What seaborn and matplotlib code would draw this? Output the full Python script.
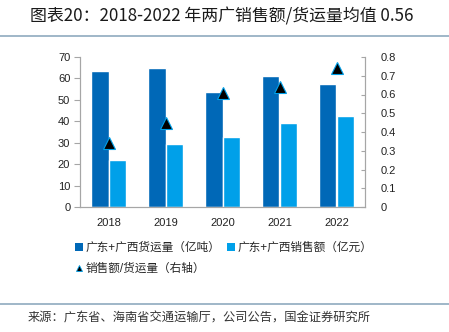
import matplotlib
matplotlib.use("Agg")
import matplotlib.pyplot as plt
from matplotlib.lines import Line2D
from matplotlib.patches import Patch
import seaborn as sns
import pandas as pd
import numpy as np

years = ["2018", "2019", "2020", "2021", "2022"]
freight = [63.3, 64.8, 53.6, 61.3, 57.6]      # 广东+广西货运量（亿吨）
sales = [21.8, 29.6, 32.8, 39.3, 42.7]         # 广东+广西销售额（亿元）
ratio = [0.34, 0.45, 0.61, 0.64, 0.74]         # 销售额/货运量（右轴）
left_ticks = [0, 10, 20, 30, 40, 50, 60, 70]
right_ticks = [0, 0.1, 0.2, 0.3, 0.4, 0.5, 0.6, 0.7, 0.8]
right_labels = ["0", "0.1", "0.2", "0.3", "0.4", "0.5", "0.6", "0.7", "0.8"]

s1 = "广东+广西货运量（亿吨）"
s2 = "广东+广西销售额（亿元）"
s3 = "销售额/货运量（右轴）"
title = "图表20：2018-2022 年两广销售额/货运量均值 0.56"
source = "来源：广东省、海南省交通运输厅，公司公告，国金证券研究所"

sns.set_style("white")
plt.rcParams["font.family"] = ["Liberation Sans", "Noto Sans CJK SC", "DejaVu Sans"]

c_dark = "#0068B7"
c_light = "#00A0E9"
spine_c = "#A6A6A6"

df = pd.DataFrame({
    "year": years * 2,
    "value": freight + sales,
    "series": [s1] * 5 + [s2] * 5,
})

W, H = 449, 332
fig = plt.figure(figsize=(W / 100, H / 100), dpi=100)
ax = fig.add_axes([80 / W, 1 - 207 / H, 285 / W, 150 / H])

sns.barplot(data=df, x="year", y="value", hue="series", order=years,
            hue_order=[s1, s2], palette=[c_dark, c_light], width=0.6,
            saturation=1, ax=ax, legend=False)
ax.set_xlabel("")
ax.set_ylabel("")
ax.set_xlim(-0.5, 4.5)
ax.set_ylim(0, 70)
ax.set_yticks(left_ticks)
ax.set_yticklabels([str(t) for t in left_ticks])
ax.tick_params(axis="y", direction="out", length=4, width=0.8, color=spine_c,
               labelsize=8, pad=3, labelcolor="#222222")
ax.tick_params(axis="x", which="major", length=0, labelsize=8, pad=8, labelcolor="#222222")
ax.set_xticks([0.5, 1.5, 2.5, 3.5], minor=True)
ax.tick_params(axis="x", which="minor", direction="out", length=3, width=0.8, color=spine_c)
ax.spines["top"].set_visible(False)
for sp in ["left", "bottom", "right"]:
    ax.spines[sp].set_color(spine_c)
    ax.spines[sp].set_linewidth(0.8)

ax2 = ax.twinx()
ax2.plot(np.arange(len(years)), ratio, linestyle="none", marker="^",
         markersize=8, markerfacecolor="black", markeredgecolor=c_light,
         markeredgewidth=0.8)
ax2.set_ylim(0, 0.8)
ax2.set_yticks(right_ticks)
ax2.set_yticklabels(right_labels)
ax2.tick_params(axis="y", direction="in", length=3, width=0.8, color=spine_c,
                labelsize=8, pad=11, labelcolor="#222222")
ax2.spines["top"].set_visible(False)
for sp in ["left", "bottom", "right"]:
    ax2.spines[sp].set_color(spine_c)
    ax2.spines[sp].set_linewidth(0.8)

handles = [
    Patch(facecolor=c_dark, edgecolor="none"),
    Line2D([], [], linestyle="none", marker="^", markersize=5,
           markerfacecolor="black", markeredgecolor=c_light, markeredgewidth=0.6),
    Patch(facecolor=c_light, edgecolor="none"),
]
labels = [s1, s3, s2]
fig.legend(handles, labels, ncol=2, loc="upper left",
           bbox_to_anchor=(75 / W, 1 - 242 / H), frameon=False,
           fontsize=8.4, handlelength=0.7, handleheight=0.7, handletextpad=0.2,
           columnspacing=0.6, labelspacing=0.75, borderaxespad=0, borderpad=0)

fig.text(30 / W, 1 - 16 / H, title, fontsize=12.2, style="italic",
         color="#1a1a1a", va="center", ha="left",
         family=["Noto Sans CJK SC", "DejaVu Sans"])
fig.add_artist(Line2D([0, 1], [1 - 36 / H, 1 - 36 / H], color="#8FAABF", lw=1.2))
fig.add_artist(Line2D([0, 1], [1 - 304 / H, 1 - 304 / H], color="#8FAABF", lw=1.2))
fig.text(28 / W, 1 - 318 / H, source, fontsize=8.8, color="#333333",
         va="center", ha="left", family=["Noto Sans CJK SC", "DejaVu Sans"])

fig.savefig("out.png", dpi=100)
